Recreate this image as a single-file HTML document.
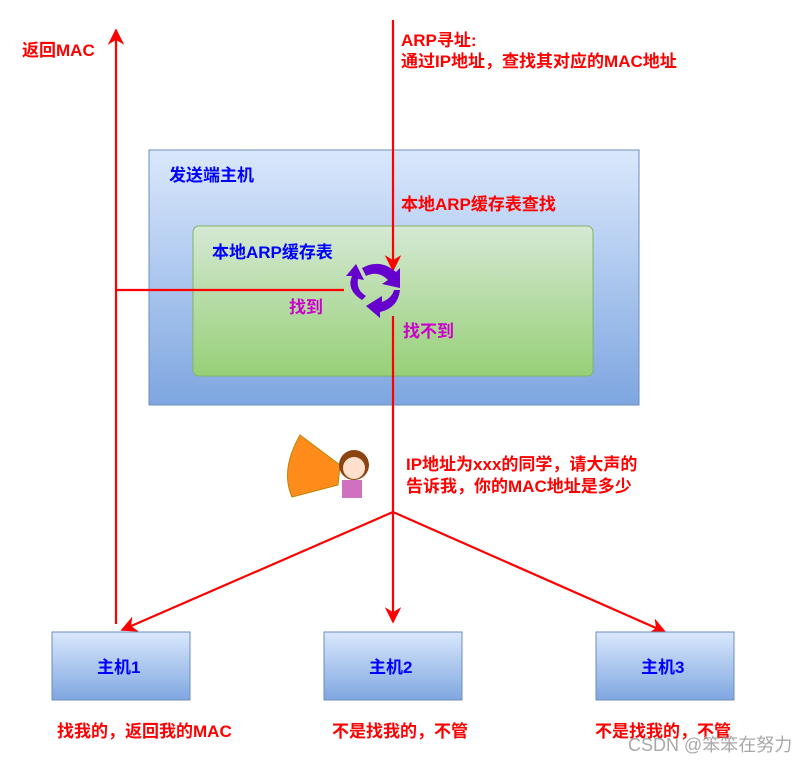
<!DOCTYPE html>
<html><head><meta charset="utf-8"><style>
body{margin:0;background:#fff}
svg text{font-family:"Liberation Sans","Noto Sans CJK SC",sans-serif;font-weight:bold}
</style></head><body>
<svg width="812" height="763" viewBox="0 0 812 763" xmlns="http://www.w3.org/2000/svg">
<defs>
<linearGradient id="b" x1="0" y1="0" x2="0" y2="1"><stop offset="0" stop-color="#dae8fc"/><stop offset="1" stop-color="#7ea6e0"/></linearGradient>
<linearGradient id="g" x1="0" y1="0" x2="0" y2="1"><stop offset="0" stop-color="#d5e8d4"/><stop offset="1" stop-color="#97d077"/></linearGradient>
<marker id="a" viewBox="0 0 10 10" refX="9" refY="5" markerWidth="7.5" markerHeight="7.5" orient="auto-start-reverse"><path d="M0,0 L10,5 L0,10 L3,5z" fill="#f00"/></marker>
</defs>
<rect x="149" y="150" width="490" height="255" fill="url(#b)" stroke="#6c8ebf"/>
<rect x="193" y="226" width="400" height="150" rx="6" fill="url(#g)" stroke="#82b366"/>
<text x="169" y="181" font-size="17" fill="#0000ff">发送端主机</text>
<text x="212" y="258" font-size="17" fill="#0000ff">本地ARP缓存表</text>
<text x="401" y="210" font-size="17" fill="#ff0000">本地ARP缓存表查找</text>
<text x="289" y="313" font-size="17" fill="#cc00cc">找到</text>
<text x="403" y="337" font-size="17" fill="#cc00cc">找不到</text>
<g stroke="#f00" stroke-width="2.2" fill="none">
<line x1="393" y1="20" x2="393" y2="270" marker-end="url(#a)"/>
<line x1="393" y1="316" x2="393" y2="622" marker-end="url(#a)"/>
<line x1="116" y1="624" x2="116" y2="30" marker-end="url(#a)"/>
<line x1="116" y1="290" x2="344" y2="290"/>
<line x1="393" y1="512" x2="122" y2="630" marker-end="url(#a)"/>
<line x1="393" y1="512" x2="665" y2="632" marker-end="url(#a)"/>
</g>
<g fill="#6600cc">
<path d="M362,268 Q380,258 396,272 L400,268 L400,288 L382,284 L388,280 Q378,270 366,276z"/>
<path d="M400,290 Q398,308 380,312 L380,318 L366,306 L382,296 L382,302 Q392,298 394,290z"/>
<path d="M362,300 Q346,290 352,276 L346,276 L356,264 L364,280 L358,279 Q356,290 366,296z"/>
</g>
<text x="22" y="56" font-size="17" fill="#ff0000">返回MAC</text>
<text x="401" y="46" font-size="17" fill="#ff0000">ARP寻址:</text>
<text x="401" y="67" font-size="17" fill="#ff0000">通过IP地址，查找其对应的MAC地址</text>
<text x="406" y="470" font-size="17" fill="#ff0000">IP地址为xxx的同学，请大声的</text>
<text x="406" y="492" font-size="17" fill="#ff0000">告诉我，你的MAC地址是多少</text>
<path d="M300,435 L340,465 L338,485 L292,497 Q280,470 300,435z" fill="#ff8c1a" stroke="#b8860b"/>
<circle cx="354" cy="465" r="15" fill="#8b4513"/>
<circle cx="354" cy="468" r="11" fill="#ffe0cc"/>
<rect x="342" y="480" width="20" height="18" fill="#d070c0"/>
<g stroke="#6c8ebf" fill="url(#b)">
<rect x="52" y="632" width="138" height="68"/>
<rect x="324" y="632" width="138" height="68"/>
<rect x="596" y="632" width="138" height="68"/>
</g>
<text x="97" y="673" font-size="17" fill="#0000ff">主机1</text>
<text x="369" y="673" font-size="17" fill="#0000ff">主机2</text>
<text x="641" y="673" font-size="17" fill="#0000ff">主机3</text>
<text x="57" y="737" font-size="17" fill="#ff0000">找我的，返回我的MAC</text>
<text x="332" y="737" font-size="17" fill="#ff0000">不是找我的，不管</text>
<text x="595" y="737" font-size="17" fill="#ff0000">不是找我的，不管</text>
<text x="628" y="751" font-size="18" style="font-weight:normal" fill="#999" opacity="0.85">CSDN @笨笨在努力</text>
</svg>
</body></html>
